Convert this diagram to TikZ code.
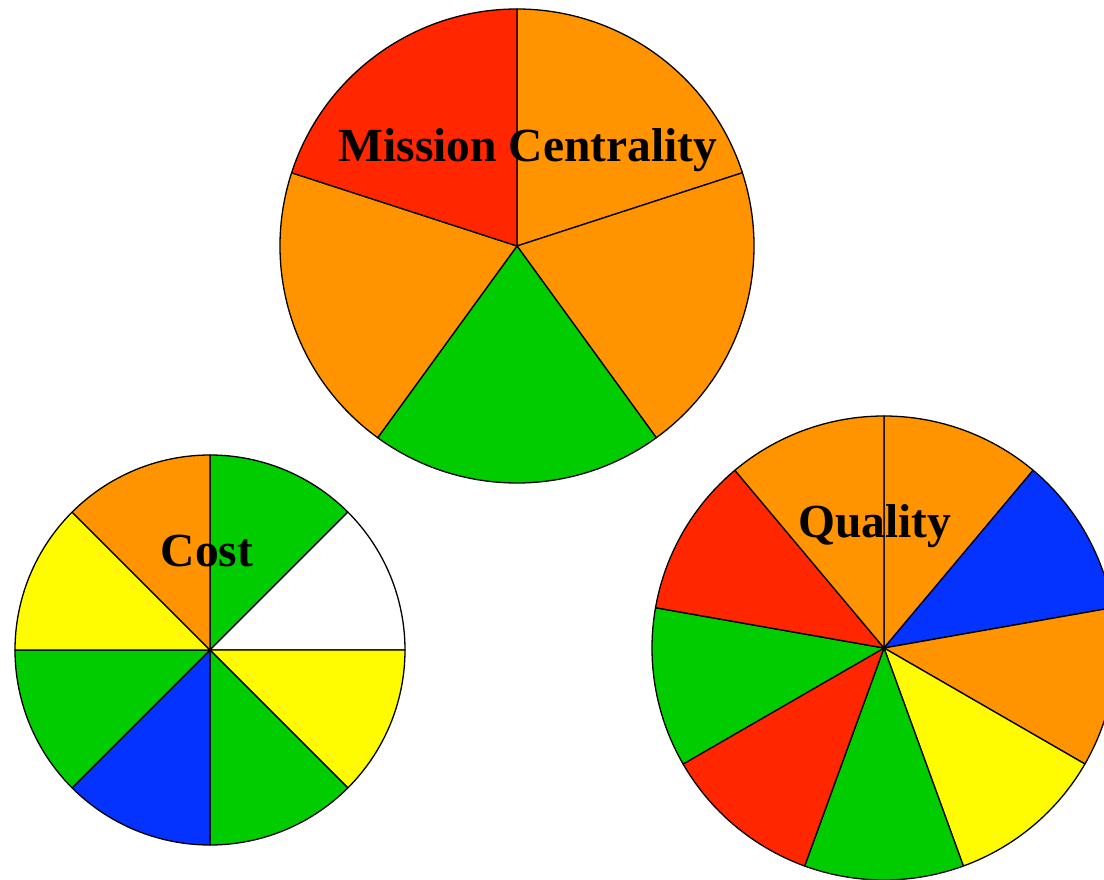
\documentclass[tikz,border=0pt]{standalone}
\usepackage{fontspec}
\setmainfont{Liberation Serif}
\definecolor{pieRed}{HTML}{FF2600}
\definecolor{pieOrange}{HTML}{FF9300}
\definecolor{pieGreen}{HTML}{00CC00}
\definecolor{pieBlue}{HTML}{0433FF}
\definecolor{pieYellow}{HTML}{FFFB00}

\begin{document}
\begin{tikzpicture}[x=1pt,y=1pt, wedge/.style={draw=black,line width=1.3pt,line join=round}, pie title/.style={font=\bfseries\fontsize{47.5}{47.5}\selectfont,anchor=base,inner sep=0pt}]
	\useasboundingbox (0,0) rectangle (1104,879);
	\coordinate (mission) at (517,633);
	\coordinate (cost) at (210,229);
	\coordinate (quality) at (884,231);
	% mission centrality, five slices
	\foreach \a/\c in {90/pieOrange,18/pieOrange,-54/pieGreen,-126/pieOrange,162/pieRed}
		\filldraw[wedge,fill=\c] (mission) -- ++(\a:237) arc[start angle=\a,delta angle=-72,radius=237] -- cycle;
	% cost, eight slices
	\foreach \a/\c in {90/pieGreen,45/white,0/pieYellow,-45/pieGreen,-90/pieBlue,-135/pieGreen,180/pieYellow,135/pieOrange}
		\filldraw[wedge,fill=\c] (cost) -- ++(\a:195) arc[start angle=\a,delta angle=-45,radius=195] -- cycle;
	% quality, nine slices
	\foreach \a/\c in {90/pieOrange,50/pieBlue,10/pieOrange,-30/pieYellow,-70/pieGreen,-110/pieRed,-150/pieGreen,170/pieRed,130/pieOrange}
		\filldraw[wedge,fill=\c] (quality) -- ++(\a:232) arc[start angle=\a,delta angle=-40,radius=232] -- cycle;
	\node[pie title] (missionTitle) at (528,717) {Mission Centrality};
	\node[pie title] (costTitle) at (207,312) {Cost};
	\node[pie title] (qualityTitle) at (875,341) {Quality};
\end{tikzpicture}
\end{document}
